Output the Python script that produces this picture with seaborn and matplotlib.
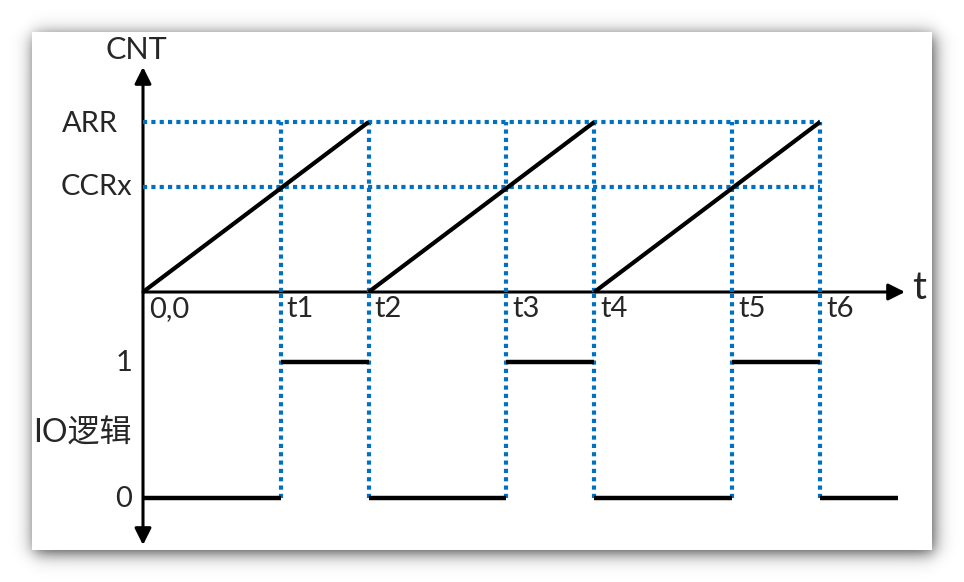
import numpy as np
import pandas as pd
import matplotlib
matplotlib.use('Agg')
import matplotlib.pyplot as plt
import seaborn as sns
from matplotlib.patches import Rectangle

# timing diagram data
ARR = 100
CCRX = 62
times = [6.1, 10, 16.1, 20, 26.1, 30]
time_labels = ['t1', 't2', 't3', 't4', 't5', 't6']

cnt_t = [0, 10, 10, 20, 20, 30]
cnt_v = [0, 100, 0, 100, 0, 100]
cnt_seg = [0, 0, 1, 1, 2, 2]

io_t = [0, 6.1, 6.1, 10, 10, 16.1, 16.1, 20, 20, 26.1, 26.1, 30, 30, 33.45]
io_v = [0, 0, 1, 1, 0, 0, 1, 1, 0, 0, 1, 1, 0, 0]
io_seg = [0, 0, 1, 1, 2, 2, 3, 3, 4, 4, 5, 5, 6, 6]

cnt_df = pd.DataFrame({'t': cnt_t, 'cnt': cnt_v, 'seg': cnt_seg})
io_df = pd.DataFrame({'t': io_t, 'io': io_v, 'seg': io_seg})

sns.set_style('white')
plt.rcParams['font.family'] = ['Lato', 'Noto Sans CJK SC', 'DejaVu Sans']

W, H = 964, 582
BLUE = '#0070C0'
fig = plt.figure(figsize=(W / 100, H / 100), dpi=100)

def fx(px):
    return px / W

def fy(py):
    return 1 - py / H

# background with drop shadow around the white panel
bg = fig.add_axes([0, 0, 1, 1])
bg.axis('off')
yy, xx = np.mgrid[0:H, 0:W] + 0.5
sig = 10
sx = 0.5 * (np.tanh((xx - 34) / sig) - np.tanh((xx - 934) / sig))
sy = 0.5 * (np.tanh((yy - 35) / sig) - np.tanh((yy - 553) / sig))
shade = 1 - 0.75 * sx * sy
bg.imshow(shade, cmap='gray', vmin=0, vmax=1, extent=[0, W, H, 0], aspect='auto')
bg.add_patch(Rectangle((32, 32), 900, 518, facecolor='white', edgecolor='none'))
bg.set_xlim(0, W)
bg.set_ylim(H, 0)

# top: counter, bottom: IO level
ax_top = fig.add_axes([fx(143), fy(292), (820 - 143) / W, (292 - 122) / H])
ax_bot = fig.add_axes([fx(143), fy(498), (820 - 143) / W, (498 - 292) / H])
io_top = (498 - 292) / (498 - 362)

for a in (ax_top, ax_bot):
    a.patch.set_alpha(0)

# axes arrows
ax_top.annotate('', xy=(fx(905), fy(292)), xycoords='figure fraction',
                xytext=(fx(143), fy(292)), textcoords='figure fraction',
                arrowprops=dict(arrowstyle='-|>,head_length=0.5,head_width=0.25', lw=2.2,
                                color='black', shrinkA=0, shrinkB=0, mutation_scale=20),
                annotation_clip=False, zorder=1)
ax_top.annotate('', xy=(fx(143), fy(67)), xycoords='figure fraction',
                xytext=(fx(143), fy(545)), textcoords='figure fraction',
                arrowprops=dict(arrowstyle='<|-|>,head_length=0.5,head_width=0.25', lw=2.2,
                                color='black', shrinkA=0, shrinkB=0, mutation_scale=20),
                annotation_clip=False, zorder=1)

# dotted guide lines
dot = (0, (1, 1))
ax_top.hlines([ARR, CCRX], 0, times[-1], colors=BLUE, linestyles=dot, lw=3, zorder=2, clip_on=False)
ax_top.vlines(times, 0, ARR, colors=BLUE, linestyles=dot, lw=3, zorder=2, clip_on=False)
ax_bot.vlines(times, 0, io_top, colors=BLUE, linestyles=dot, lw=3, zorder=2, clip_on=False)

sns.lineplot(data=cnt_df, x='t', y='cnt', units='seg', estimator=None, sort=False,
             color='black', lw=3, ax=ax_top, legend=False, zorder=3)
sns.lineplot(data=io_df, x='t', y='io', units='seg', estimator=None, sort=False,
             color='black', lw=3.2, ax=ax_bot, legend=False, zorder=3)
for a in (ax_top, ax_bot):
    for ln in a.lines:
        ln.set_clip_on(False)
        ln.set_solid_capstyle('butt')

ax_top.set_xlim(0, 30)
ax_top.set_ylim(0, ARR)
ax_bot.set_xlim(0, 30)
ax_bot.set_ylim(0, io_top)
ax_top.axis('off')
ax_bot.axis('off')

# labels
fs = 21
fig.text(fx(136), fy(50), 'CNT', ha='center', va='center', fontsize=22)
fig.text(fx(90), fy(124), 'ARR', ha='center', va='center', fontsize=fs)
fig.text(fx(96), fy(187), 'CCRx', ha='center', va='center', fontsize=fs)
fig.text(fx(919), fy(288), 't', ha='center', va='center', fontsize=28)
fig.text(fx(149), fy(296), '0,0', ha='left', va='top', fontsize=fs)
for t, lab in zip(times, time_labels):
    px = 143 + t * (820 - 143) / 30
    fig.text(fx(px + 6), fy(296), lab, ha='left', va='top', fontsize=fs)
fig.text(fx(132), fy(363), '1', ha='right', va='center', fontsize=fs)
fig.text(fx(132), fy(499), '0', ha='right', va='center', fontsize=fs)
fig.text(fx(132), fy(434), 'IO逻辑', ha='right', va='center', fontsize=23)

fig.savefig('out.png', dpi=100)
